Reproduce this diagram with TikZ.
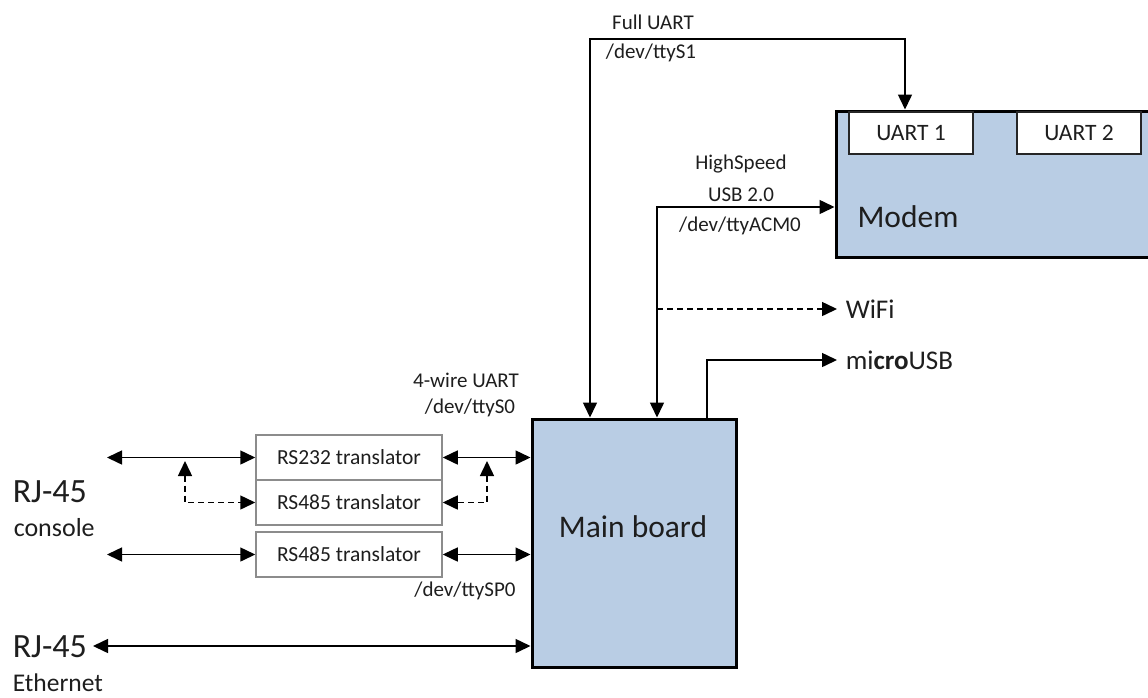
\documentclass[tikz,border=0pt]{standalone}
\usepackage{fontspec}
\setmainfont{Carlito}
\usetikzlibrary{arrows.meta}
\definecolor{boardblue}{RGB}{185,205,228}
\definecolor{txtgray}{RGB}{30,30,30}

\begin{document}
\begin{tikzpicture}[x=1pt,y=-1pt,line width=1.5pt,
  oneway/.style={-{Triangle[length=15pt,width=14pt]}},
  twoway/.style={{Triangle[length=15pt,width=14pt]}-{Triangle[length=15pt,width=14pt]}},
  dashline/.style={dash pattern=on 6pt off 4pt},
  bigbox/.style={draw=black,line width=3pt,fill=boardblue},
  transbox/.style={draw=black!45,fill=white,minimum width=186pt,minimum height=45pt,
    text=txtgray,font=\fontsize{21.5}{25}\selectfont},
  portbox/.style={draw=black!85,fill=white,minimum width=124pt,minimum height=42pt,
    text=txtgray,font=\fontsize{23.5}{28}\selectfont},
  lbl/.style={inner sep=0pt,text=txtgray,font=\fontsize{21}{25}\selectfont},
  biglbl/.style={inner sep=0pt,text=txtgray,font=\fontsize{31.5}{36}\selectfont},
  side/.style={anchor=west,inner sep=0pt,inner xsep=8pt,text=txtgray,font=\fontsize{27}{32}\selectfont}]
\useasboundingbox (0,0) rectangle (1148,697);
\clip (0,0) rectangle (1148,697);

\node[bigbox,minimum width=204pt,minimum height=248pt] (main) at (634,543) {};
\node[biglbl] (mainlbl) at (633,527) {Main board};
\node[bigbox,minimum width=324pt,minimum height=146pt] (modem) at (998,184) {};
\node[biglbl] (modemlbl) at (908,217) {Modem};
\node[portbox] (uart1) at (911,133) {UART 1};
\node[portbox] (uart2) at (1079,133) {UART 2};

\node[transbox] (rs232) at (349,457.5) {RS232 translator};
\node[transbox] (rs485a) at (349,502.5) {RS485 translator};
\node[transbox] (rs485b) at (349,554.5) {RS485 translator};

\node[side] (wifi) at (837,309) {WiFi};
\node[side] (musb) at (837,360) {mi\textbf{cro}USB};

\coordinate (con1) at (107,457.5);
\coordinate (con2) at (107,554.5);
\coordinate (eth) at (93,646);
\coordinate (swl) at (185,461);
\coordinate (swr) at (487,461);
\coordinate (ful) at (590,39);
\coordinate (fur) at (905,39);
\coordinate (hs) at (657,207);
\coordinate (wf) at (657,309);
\coordinate (mu) at (707,360);

\draw[twoway] (con1) -- (rs232.west);
\draw[twoway] (con2) -- (rs485b.west);
\draw[twoway] (rs232.east) -- (rs232.east -| main.west);
\draw[twoway] (rs485b.east) -- (rs485b.east -| main.west);
\draw[twoway,dashline] (swl) |- (rs485a.west);
\draw[twoway,dashline] (swr) |- (rs485a.east);
\draw[twoway] (eth) -- (eth -| main.west);
\draw[twoway] (main.north -| ful) -- (ful) -- (fur) -- (modem.north -| fur);
\draw[twoway] (main.north -| hs) -- (hs) -- (modem.west |- hs);
\draw[oneway,dashline] (wf) -- (wifi.west);
\draw[oneway] (main.north -| mu) -- (mu) -- (musb.west);

\node[lbl] (fulllbl) at (653,22) {Full UART};
\node[lbl] (s1lbl) at (651,53) {/dev/ttyS1};
\node[lbl] (hslbl) at (741,164) {HighSpeed};
\node[lbl] (usblbl) at (741,195) {USB 2.0};
\node[lbl] (acmlbl) at (740,226) {/dev/ttyACM0};
\node[lbl] (fourlbl) at (466,380) {4-wire UART};
\node[lbl] (s0lbl) at (470,408) {/dev/ttyS0};
\node[lbl] (sp0lbl) at (465,591) {/dev/ttySP0};

\node[inner sep=0pt,anchor=west,text=txtgray,font=\fontsize{34}{40}\selectfont] (rjcon) at (12,492) {RJ-45};
\node[inner sep=0pt,anchor=west,text=txtgray,font=\fontsize{26}{30}\selectfont] (conlbl) at (13,528) {console};
\node[inner sep=0pt,anchor=west,text=txtgray,font=\fontsize{34}{40}\selectfont] (rjeth) at (12,647) {RJ-45};
\node[inner sep=0pt,anchor=west,text=txtgray,font=\fontsize{25.5}{30}\selectfont] (ethlbl) at (12,683) {Ethernet};
\end{tikzpicture}
\end{document}
